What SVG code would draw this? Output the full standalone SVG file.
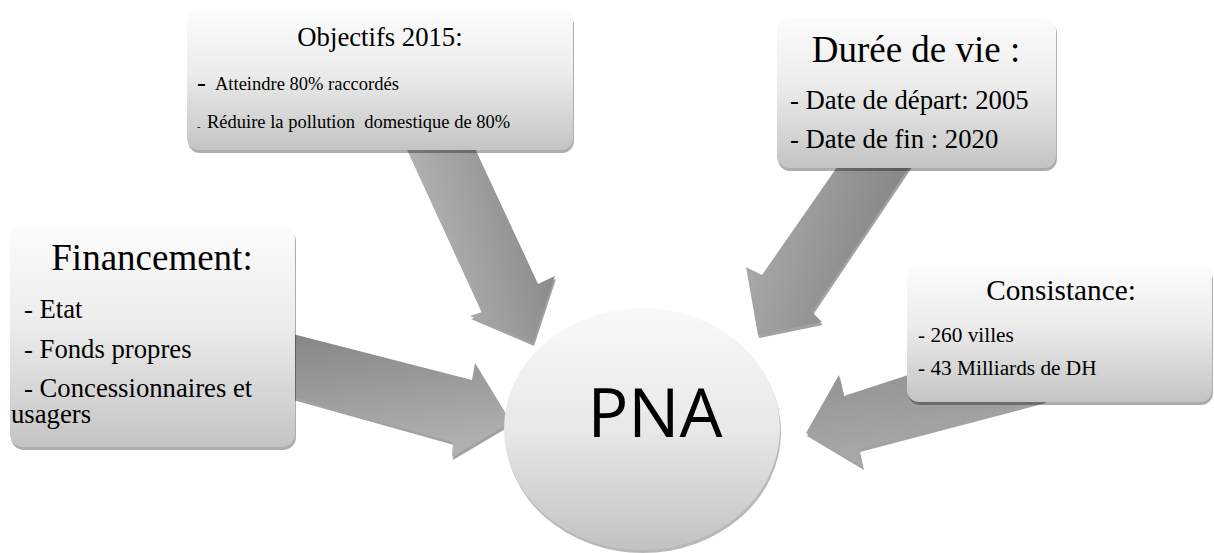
<svg xmlns="http://www.w3.org/2000/svg" xmlns:xlink="http://www.w3.org/1999/xlink" width="1214" height="553" viewBox="0 0 1214 553">
<style>
.box{fill:url(#boxg);}
.bsh{fill:#000;opacity:0.32;}
.ash{fill:#7a7a7a;opacity:0.7;}
.t{font-family:"Liberation Serif","Times New Roman",serif;fill:#000;white-space:pre;}
.pna{font-family:"Open Sans","Liberation Sans",sans-serif;font-size:68px;fill:#000;}
</style>
<defs>
<linearGradient id="boxg" x1="0" y1="0" x2="0" y2="1">
<stop offset="0" stop-color="#fcfcfc"/>
<stop offset="0.45" stop-color="#ececec"/>
<stop offset="1" stop-color="#c4c4c4"/>
</linearGradient>
<linearGradient id="circg" x1="0" y1="0" x2="0" y2="1">
<stop offset="0" stop-color="#f9f9f9"/>
<stop offset="0.5" stop-color="#e8e8e8"/>
<stop offset="1" stop-color="#c2c2c2"/>
</linearGradient>
<linearGradient id="ga1" x1="0" y1="0.3" x2="1" y2="0">
<stop offset="0" stop-color="#b6b6b6"/>
<stop offset="1" stop-color="#808080"/>
</linearGradient>
<linearGradient id="ga2" x1="0" y1="0" x2="1" y2="0.3">
<stop offset="0" stop-color="#b0b0b0"/>
<stop offset="1" stop-color="#828282"/>
</linearGradient>
<linearGradient id="ga3" x1="0" y1="0" x2="0.2" y2="1">
<stop offset="0" stop-color="#858585"/>
<stop offset="1" stop-color="#b0b0b0"/>
</linearGradient>
<linearGradient id="ga4" x1="0" y1="0" x2="0.2" y2="1">
<stop offset="0" stop-color="#8c8c8c"/>
<stop offset="1" stop-color="#aaaaaa"/>
</linearGradient>
<path id="a1" d="M403,140 L482,312 L470,316 L533,343 L555,276 L538,284 L471,140 Z"/>
<path id="a2" d="M842,160 L762,275 L746,267 L758,335 L822,322 L812,312 L914,160 Z"/>
<path id="a3" d="M285,332 L472,380 L475,363 L511,422 L452,457 L453,442 L285,395 Z"/>
<path id="a4" d="M1000,345 L844,396 L839,375 L806,433 L863,467 L859,449 L1045,400 Z"/>
</defs>

<g id="connectors">
<use xlink:href="#a1" class="ash" transform="translate(1,3)"/>
<use xlink:href="#a1" fill="url(#ga1)"/>
<use xlink:href="#a2" class="ash" transform="translate(1,3)"/>
<use xlink:href="#a2" fill="url(#ga2)"/>
<use xlink:href="#a3" class="ash" transform="translate(1,3)"/>
<use xlink:href="#a3" fill="url(#ga3)"/>
<use xlink:href="#a4" class="ash" transform="translate(1,3)"/>
<use xlink:href="#a4" fill="url(#ga4)"/>
</g>

<g id="node-objectifs">
<rect class="bsh" x="188" y="13" width="386" height="140" rx="12"/>
<rect class="box" x="187" y="10" width="386" height="140" rx="12"/>
<text class="t" x="380" y="46" font-size="26.7" text-anchor="middle">Objectifs 2015:</text>
<text class="t" x="197" y="91" font-size="26.7">-</text>
<text class="t" x="215" y="90" font-size="18.5">Atteindre 80% raccordés</text>
<text class="t" x="197" y="130" font-size="10.7">-</text>
<text class="t" x="207" y="128" font-size="18.5">Réduire la pollution  domestique de 80%</text>
</g>

<g id="node-duree">
<rect class="bsh" x="778" y="21" width="279" height="150" rx="12"/>
<rect class="box" x="777" y="18" width="279" height="150" rx="12"/>
<text class="t" x="916" y="62" font-size="37" text-anchor="middle">Durée de vie :</text>
<text class="t" x="790" y="109" font-size="26.7">- Date de départ: 2005</text>
<text class="t" x="790" y="148" font-size="26.7">- Date de fin : 2020</text>
</g>

<g id="node-financement">
<rect class="bsh" x="11" y="228" width="285" height="222" rx="13"/>
<rect class="box" x="10" y="225" width="285" height="222" rx="13"/>
<text class="t" x="152" y="270" font-size="37" text-anchor="middle">Financement:</text>
<text class="t" x="24" y="318" font-size="26.7">- Etat</text>
<text class="t" x="24" y="358" font-size="26.7">- Fonds propres</text>
<text class="t" x="24" y="397" font-size="26.7">- Concessionnaires et</text>
<text class="t" x="11" y="423" font-size="26.7">usagers</text>
</g>

<g id="node-consistance">
<rect class="bsh" x="908" y="268" width="305" height="137" rx="12"/>
<rect class="box" x="907" y="265" width="305" height="137" rx="12"/>
<text class="t" x="1061" y="300" font-size="29.3" text-anchor="middle">Consistance:</text>
<text class="t" x="918" y="342" font-size="21.3">- 260 villes</text>
<text class="t" x="918" y="375" font-size="21.3">- 43 Milliards de DH</text>
</g>

<g id="node-pna">
<ellipse cx="643" cy="432" rx="138" ry="121" fill="#000" opacity="0.28"/>
<ellipse cx="642" cy="429" rx="138" ry="121" fill="url(#circg)"/>
<text class="pna" x="655" y="437" text-anchor="middle">PNA</text>
</g>
</svg>
